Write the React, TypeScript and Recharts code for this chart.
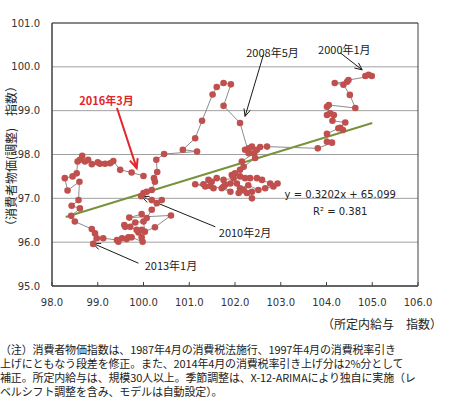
import React from "react";
import {
  CartesianGrid,
  ReferenceArea,
  ReferenceDot,
  ReferenceLine,
  Scatter,
  ScatterChart,
  XAxis,
  YAxis,
} from "recharts";

// 所定内給与 指数（x）と 消費者物価(調整) 指数（y）、2000年1月 → 2016年3月 の順
const wageIdx = [
  // 2000
  104.85, 104.92, 104.99, 104.48, 104.45, 104.18, 104.37, 104.51, 104.63, 104.05, 104.01, 104.08,
  104.01, 104.16, 104.13, 104.41, 104.3, 104.36, 104.26, 104.01, 104.01, 104.12, 103.81,
  // 2001
  102.7, 102.55, 102.44, 102.19, 102.11,
  // 2002-2006
  102.0, 101.93, 101.97, 101.75, 101.6, 101.49, 101.42, 101.31, 101.13, 101.35, 101.53, 101.46,
  101.71, 101.9, 101.75, 101.79, 101.9, 102.04, 102.08, 102.26, 102.37, 102.37, 102.19, 102.11,
  102.29, 102.51, 102.66, 102.84, 102.93, 102.77, 102.59, 102.48, 102.33, 102.22, 102.11,
  // 2007
  102.15, 102.41, 102.3, 102.37, 102.48, 102.22, 102.3,
  // 2008/5 - 2010/2
  102.11, 101.75, 101.91, 101.75, 101.6, 101.51, 101.28, 101.13, 100.86, 101.17, 100.45, 100.28,
  100.3, 100.23, 100.25, 100.18, 100.07, 100.0, 99.95,
  // 2010/3 - 2013/1
  100.18, 100.29, 100.4, 100.18, 100.07, 99.96, 99.69, 100.6, 100.25, 100.03, 100.0, 99.82, 99.6,
  99.71, 99.58, 99.85, 99.96, 99.89, 99.96, 99.98, 99.74, 99.67, 99.63, 99.53, 99.45, 99.42, 99.12,
  98.98, 98.9,
  // 2013/2 - 2016/3
  98.94, 98.87, 98.5, 98.42, 98.61, 98.43, 98.58, 98.6, 98.34, 98.28, 98.45, 98.54, 98.56, 98.61,
  98.66, 98.72, 98.79, 98.87, 99.0, 99.05, 99.16, 99.27, 99.34, 99.49, 99.74, 100.0,
];

const cpiIdx = [
  // 2000
  99.79, 99.82, 99.79, 99.7, 99.66, 99.63, 99.59, 99.36, 99.06, 99.13, 99.09, 98.94,
  98.9, 98.9, 98.77, 98.73, 98.61, 98.56, 98.6, 98.47, 98.29, 98.27, 98.14,
  // 2001
  98.18, 98.17, 97.92, 97.72, 97.65,
  // 2002-2006
  97.57, 97.53, 97.46, 97.42, 97.46, 97.38, 97.42, 97.32, 97.32, 97.27, 97.23, 97.28,
  97.23, 97.15, 97.27, 97.31, 97.34, 97.34, 97.12, 97.12, 97.0, 97.15, 97.19, 97.23,
  97.3, 97.19, 97.23, 97.27, 97.34, 97.34, 97.42, 97.46, 97.46, 97.46, 97.5,
  // 2007
  97.84, 98.03, 98.14, 98.18, 98.11, 98.11, 98.03,
  // 2008/5 - 2010/2
  98.72, 99.11, 99.6, 99.63, 99.54, 99.37, 98.77, 98.37, 98.11, 98.07, 98.01, 97.88,
  97.6, 97.46, 97.38, 97.19, 97.15, 97.12, 97.05,
  // 2010/3 - 2013/1
  96.96, 96.89, 96.96, 96.74, 96.55, 96.64, 96.56, 96.61, 96.34, 96.24, 96.47, 96.45, 96.35,
  96.35, 96.39, 96.28, 96.28, 96.22, 96.11, 96.01, 96.11, 96.11, 96.07, 96.09, 96.01, 96.05, 96.09,
  96.09, 95.96,
  // 2013/2 - 2016/3
  96.2, 96.3, 96.47, 96.6, 96.77, 96.83, 96.96, 97.38, 97.18, 97.46, 97.5, 97.57, 97.84, 97.88,
  97.97, 97.84, 97.88, 97.78, 97.82, 97.79, 97.79, 97.8, 97.85, 97.65, 97.59, 97.51,
];

const xTicks = [98, 99, 100, 101, 102, 103, 104, 105, 106];
const yTicks = [95, 96, 97, 98, 99, 100, 101];

// 近似直線
const trendSlope = 0.3202;
const trendIntercept = 65.099;
const trendFrom = 98.3;
const trendTo = 105.0;

const yTitle = "（消費者物価(調整)　指数）";
const xTitle = "（所定内給与　指数）";
const eqText = "y = 0.3202x + 65.099";
const r2Text = "R² = 0.381";

const noteLines = [
  "（注）消費者物価指数は、1987年4月の消費税法施行、1997年4月の消費税率引き",
  "上げにともなう段差を修正。また、2014年4月の消費税率引き上げ分は2%分として",
  "補正。所定内給与は、規模30人以上。季節調整は、X-12-ARIMAにより独自に実施（レ",
  "ベルシフト調整を含み、モデルは自動設定）。",
];

// 吹き出し（ラベル位置・矢印はデータ座標）
const callouts = [
  { text: "2000年1月", at: [104.39, 100.41], from: [104.3, 100.32], to: [104.78, 99.93], red: false },
  { text: "2008年5月", at: [102.82, 100.34], from: [102.62, 100.27], to: [102.22, 98.87], red: false },
  { text: "2016年3月", at: [99.19, 99.25], from: [99.42, 99.06], to: [99.85, 97.69], red: true },
  { text: "2010年2月", at: [102.22, 96.23], from: [101.57, 96.35], to: [99.96, 97.04], red: false },
  { text: "2013年1月", at: [100.6, 95.48], from: [99.89, 95.52], to: [98.9, 95.97], red: false },
];

const points = wageIdx.map((x, i) => ({ x, y: cpiIdx[i] }));

const jp = '"Noto Sans CJK JP", sans-serif';
const num = '"DejaVu Sans", sans-serif';
const RED = "#E3262B";

const arrow = (color: string, width: number, head: number) => (p: any) => {
  const { x1, y1, x2, y2 } = p;
  const a = Math.atan2(y2 - y1, x2 - x1);
  const s = 0.42;
  const ax = x2 - head * Math.cos(a - s);
  const ay = y2 - head * Math.sin(a - s);
  const bx = x2 - head * Math.cos(a + s);
  const by = y2 - head * Math.sin(a + s);
  return (
    <g>
      <line x1={x1} y1={y1} x2={x2} y2={y2} stroke={color} strokeWidth={width} />
      <polyline
        points={`${ax},${ay} ${x2},${y2} ${bx},${by}`}
        fill="none"
        stroke={color}
        strokeWidth={width}
      />
    </g>
  );
};

const label = (text: string, color: string, bold: boolean, font: string, size: number) => (p: any) => (
  <text
    x={p.cx}
    y={p.cy}
    textAnchor="middle"
    dominantBaseline="central"
    fill={color}
    fontFamily={font}
    fontSize={size}
    fontWeight={bold ? "bold" : "normal"}
  >
    {text}
  </text>
);

const dot = (p: any) => <circle cx={p.cx} cy={p.cy} r={3.3} fill="#C0504D" />;

export default function App() {
  return (
    <div style={{ position: "absolute", left: 0, top: 0, width: 450, height: 403, background: "#fff" }}>
      <ScatterChart width={450} height={315} margin={{ top: 23, right: 32, bottom: 0, left: 0 }}>
        <CartesianGrid horizontal vertical={false} stroke="#A0A0A0" />
        <XAxis
          type="number"
          dataKey="x"
          domain={[98, 106]}
          ticks={xTicks}
          allowDataOverflow
          height={29}
          tickFormatter={(v: number) => v.toFixed(1)}
          tick={{ fill: "#333", fontSize: 10, fontFamily: num }}
          tickSize={-4}
          tickMargin={17}
          stroke="#404040"
        />
        <YAxis
          type="number"
          dataKey="y"
          domain={[95, 101]}
          ticks={yTicks}
          allowDataOverflow
          width={52}
          tickFormatter={(v: number) => v.toFixed(1)}
          tick={{ fill: "#333", fontSize: 10, fontFamily: num }}
          tickLine={false}
          tickSize={0}
          tickMargin={12}
          stroke="#404040"
        />
        <ReferenceArea x1={98} x2={106} y1={95} y2={101} fill="none" stroke="#404040" strokeWidth={1} />
        <Scatter
          data={points}
          line={{ stroke: "#8C8C8C", strokeWidth: 1 }}
          lineType="joint"
          shape={dot}
          isAnimationActive={false}
        />
        <ReferenceLine
          segment={[
            { x: trendFrom, y: trendSlope * trendFrom + trendIntercept },
            { x: trendTo, y: trendSlope * trendTo + trendIntercept },
          ]}
          stroke="#77933C"
          strokeWidth={2}
          ifOverflow="visible"
        />
        {callouts.map((c) => (
          <ReferenceLine
            key={"a" + c.text}
            segment={[
              { x: c.from[0], y: c.from[1] },
              { x: c.to[0], y: c.to[1] },
            ]}
            ifOverflow="visible"
            shape={c.red ? arrow(RED, 2, 10) : arrow("#1a1a1a", 1, 8)}
          />
        ))}
        {callouts.map((c) => (
          <ReferenceDot
            key={"t" + c.text}
            x={c.at[0]}
            y={c.at[1]}
            r={0}
            ifOverflow="visible"
            shape={label(c.text, c.red ? RED : "#1a1a1a", c.red, jp, 11)}
          />
        ))}
        <ReferenceDot x={104.3} y={97.08} r={0} ifOverflow="visible" shape={label(eqText, "#222", false, num, 10)} />
        <ReferenceDot x={104.3} y={96.71} r={0} ifOverflow="visible" shape={label(r2Text, "#222", false, num, 10)} />
      </ScatterChart>
      <div
        style={{
          position: "absolute",
          left: 10,
          top: 156,
          transform: "translate(-50%, -50%) rotate(-90deg)",
          whiteSpace: "nowrap",
          fontFamily: jp,
          fontSize: 12,
          color: "#222",
        }}
      >
        {yTitle}
      </div>
      <div
        style={{
          position: "absolute",
          right: 8,
          top: 316,
          whiteSpace: "nowrap",
          fontFamily: jp,
          fontSize: 12,
          color: "#222",
          lineHeight: "16px",
        }}
      >
        {xTitle}
      </div>
      <div style={{ position: "absolute", left: 0, top: 342, fontFamily: jp, fontSize: 11, color: "#222", letterSpacing: "-0.15px" }}>
        {noteLines.map((t) => (
          <div key={t} style={{ whiteSpace: "nowrap", lineHeight: "14px", height: 14 }}>
            {t}
          </div>
        ))}
      </div>
    </div>
  );
}
